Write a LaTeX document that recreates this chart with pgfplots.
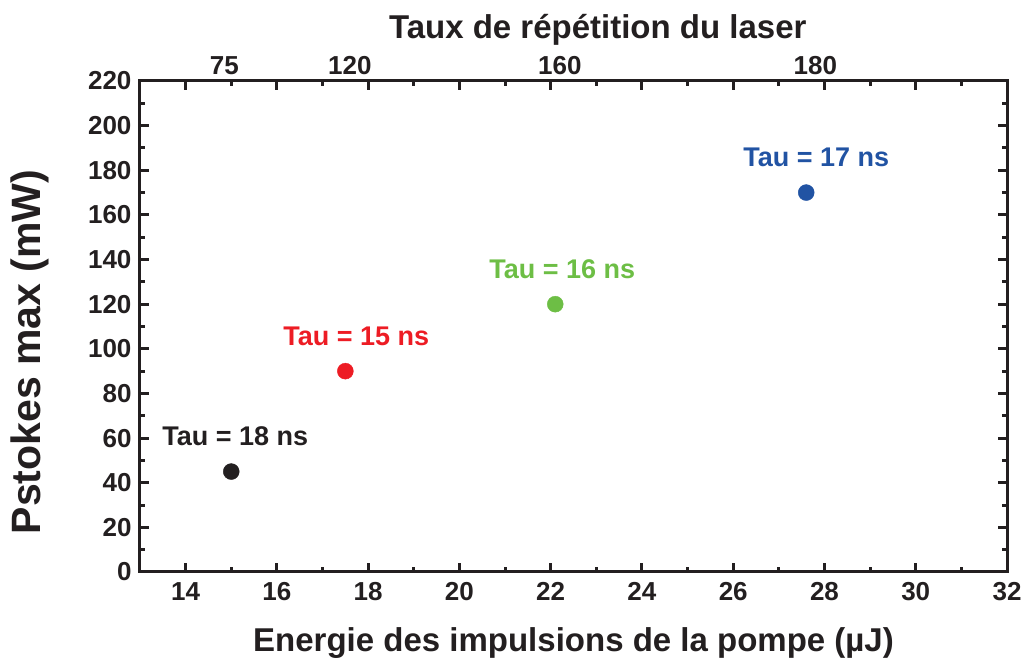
\documentclass[border=0pt]{standalone}
\usepackage{fontspec}
\setmainfont{Liberation Sans}
\usepackage{pgfplots}
\pgfplotsset{compat=1.18}
\definecolor{ink}{RGB}{35,31,32}
\definecolor{pred}{RGB}{237,28,36}
\definecolor{pgreen}{RGB}{109,190,69}
\definecolor{pblue}{RGB}{33,83,163}

\begin{document}
\begin{tikzpicture}
\pgfplotsset{
    common/.style={
        scale only axis, width=867pt, height=491pt,
        xmin=13, xmax=32, ymin=0, ymax=220,
        /pgf/number format/assume math mode=true,
        tick label style={font=\fontsize{26}{26}\selectfont\bfseries, text=ink},
    }
}
% main axis: energy vs power
\begin{axis}[
    common, name=ax,
    xtick={14,16,...,32}, ytick={0,20,...,220},
    minor x tick num=1, minor y tick num=1,
    tick align=inside, xtick pos=both, ytick pos=both, ticklabel pos=left,
    major tick length=9pt, minor tick length=5pt,
    every tick/.append style={ink, line width=3pt},
    axis line style={ink, line width=3pt},
    xticklabel style={yshift=-7pt},
    yticklabel style={xshift=-5pt},
    xlabel={Energie des impulsions de la pompe (µJ)},
    ylabel={Pstokes max (mW)},
    xlabel style={font=\fontsize{33}{33}\selectfont\bfseries, text=ink,
        at={(rel axis cs:0.5,0)}, anchor=center, yshift=-71pt},
    ylabel style={font=\fontsize{41}{41}\selectfont\bfseries, text=ink,
        at={(rel axis cs:0,0.448)}, anchor=center, yshift=110pt},
    nodes near coords, point meta=explicit symbolic,
    every node near coord/.style={font=\fontsize{27}{27}\selectfont\bfseries,
        anchor=center, yshift=35pt},
]
\addplot[only marks, mark=*, mark size=8pt, color=ink, text=ink,
    every node near coord/.append style={xshift=4pt}]
    coordinates {(15,45)[Tau = 18 ns]};
\addplot[only marks, mark=*, mark size=8pt, color=pred, text=pred,
    every node near coord/.append style={xshift=11pt}]
    coordinates {(17.5,90)[Tau = 15 ns]};
\addplot[only marks, mark=*, mark size=8pt, color=pgreen, text=pgreen,
    every node near coord/.append style={xshift=7pt}]
    coordinates {(22.1,120)[Tau = 16 ns]};
\addplot[only marks, mark=*, mark size=8pt, color=pblue, text=pblue,
    every node near coord/.append style={xshift=10pt}]
    coordinates {(27.6,170)[Tau = 17 ns]};
\end{axis}
% top axis: laser repetition rate labels
\begin{axis}[
    common,
    axis line style={draw=none},
    ytick=\empty,
    xtick={14.85,17.6,22.2,27.8},
    xticklabels={75,120,160,180},
    xtick pos=right, xticklabel pos=right,
    major tick length=0pt,
    xticklabel style={yshift=3pt},
    xlabel={Taux de répétition du laser},
    xlabel style={font=\fontsize{33}{33}\selectfont\bfseries, text=ink,
        at={(rel axis cs:0.528,1)}, anchor=center, yshift=51pt},
]
\end{axis}
\pgfresetboundingbox
\path[use as bounding box] ([xshift=-140pt,yshift=-92pt]ax.south west)
    rectangle ([xshift=27pt,yshift=81pt]ax.north east);
\end{tikzpicture}
\end{document}
